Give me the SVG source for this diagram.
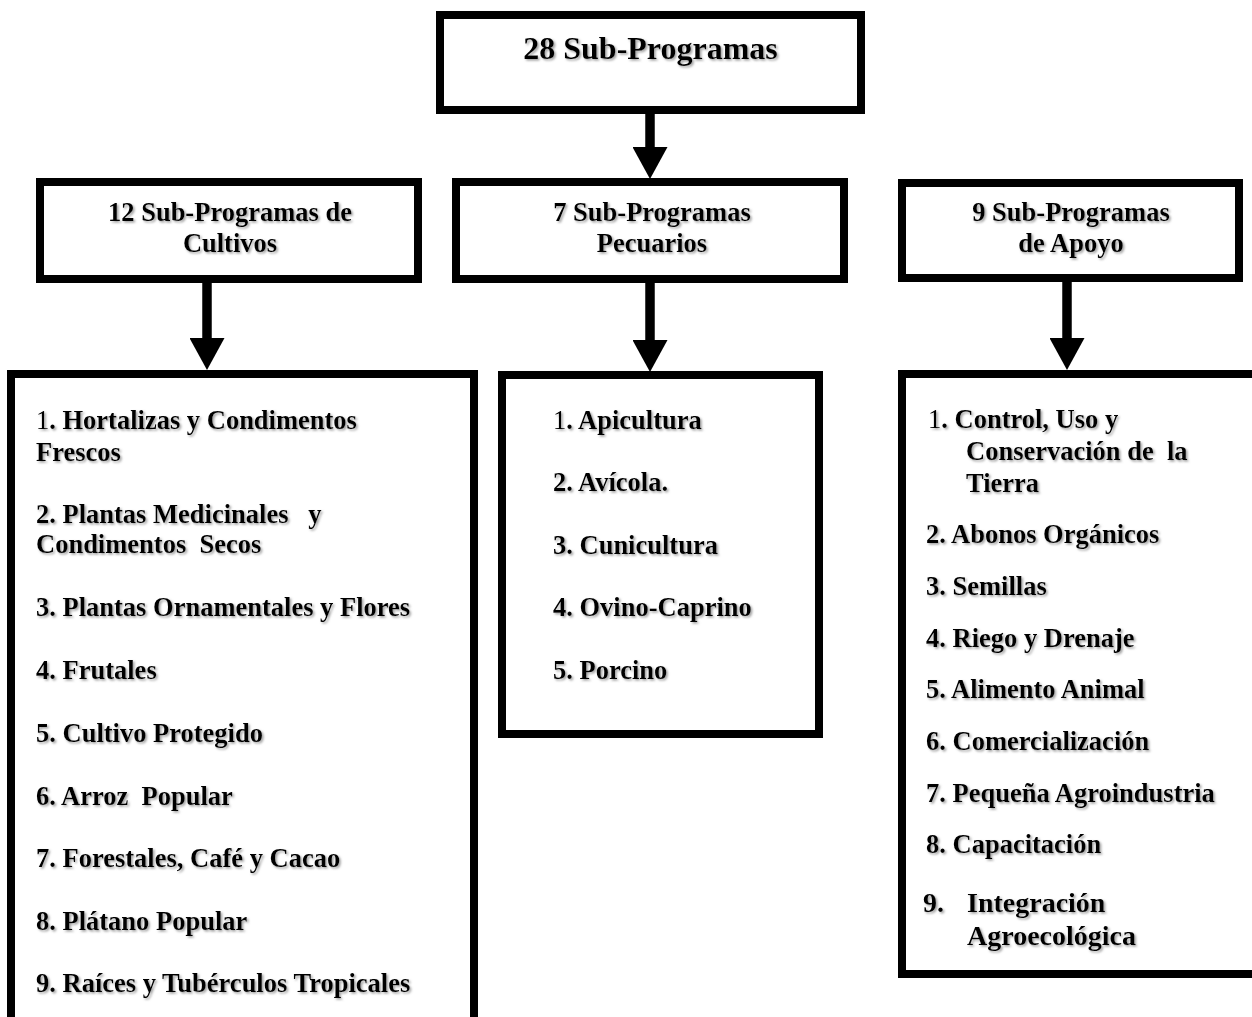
<svg xmlns="http://www.w3.org/2000/svg" width="1252" height="1017" viewBox="0 0 1252 1017">
<style>
  .box { fill: #fff; stroke: #000; stroke-width: 8; }
  .t { font-family: "Liberation Serif", "Times New Roman", serif; font-weight: bold; fill: #000; filter: url(#sh); }
  .hd { font-size: 26.5px; text-anchor: middle; }
  .title { font-size: 32px; text-anchor: middle; }
  .li { font-size: 26.5px; }
  .li text { white-space: pre; }
  .big { font-size: 28px; }
  .n { font-weight: normal; }
  .conn { stroke: #000; stroke-width: 9.5; fill: none; marker-end: url(#ah); }
</style>
<defs>
  <filter id="sh" x="-10%" y="-30%" width="120%" height="160%">
    <feDropShadow dx="1.6" dy="1.6" stdDeviation="0.9" flood-color="#808080" flood-opacity="0.75"/>
  </filter>
  <marker id="ah" markerUnits="userSpaceOnUse" viewBox="0 0 32 35" markerWidth="32" markerHeight="35" refX="0" refY="17.5" orient="auto">
    <path d="M0,0 L32,17.5 L0,35 Z" fill="#000"/>
  </marker>
</defs>
<rect width="1252" height="1017" fill="#fff"/>

<g id="connectors">
  <path class="conn" d="M650,114 L650,147"/>
  <path class="conn" d="M207,283 L207,338"/>
  <path class="conn" d="M650,281 L650,340"/>
  <path class="conn" d="M1067,282 L1067,338"/>
</g>

<g id="node-top">
  <rect class="box" x="440" y="15" width="421" height="95"/>
  <text class="t title" x="650.5" y="59">28 Sub-Programas</text>
</g>

<g id="node-cultivos">
  <rect class="box" x="40" y="182" width="378" height="97"/>
  <text class="t hd" x="230" y="221">12 Sub-Programas de</text>
  <text class="t hd" x="230" y="252">Cultivos</text>
</g>

<g id="node-pecuarios">
  <rect class="box" x="456" y="182" width="388" height="97"/>
  <text class="t hd" x="652" y="221">7 Sub-Programas</text>
  <text class="t hd" x="652" y="252">Pecuarios</text>
</g>

<g id="node-apoyo">
  <rect class="box" x="902" y="183" width="337" height="95"/>
  <text class="t hd" x="1071" y="221">9 Sub-Programas</text>
  <text class="t hd" x="1071" y="252">de Apoyo</text>
</g>

<g id="list-cultivos">
  <rect class="box" x="11" y="374" width="463" height="700"/>
  <g class="t li">
    <text x="36" y="429"><tspan class="n">1</tspan>. Hortalizas y Condimentos</text>
    <text x="36" y="461">Frescos</text>
    <text x="36" y="523">2. Plantas Medicinales   y</text>
    <text x="36" y="553">Condimentos  Secos</text>
    <text x="36" y="616">3. Plantas Ornamentales y Flores</text>
    <text x="36" y="679">4. Frutales</text>
    <text x="36" y="742">5. Cultivo Protegido</text>
    <text x="36" y="805">6. Arroz  Popular</text>
    <text x="36" y="867">7. Forestales, Café y Cacao</text>
    <text x="36" y="930">8. Plátano Popular</text>
    <text x="36" y="992">9. Raíces y Tubérculos Tropicales</text>
  </g>
</g>

<g id="list-pecuarios">
  <rect class="box" x="502" y="375" width="317" height="359"/>
  <g class="t li">
    <text x="553" y="429"><tspan class="n">1</tspan>. Apicultura</text>
    <text x="553" y="491">2. Avícola.</text>
    <text x="553" y="554">3. Cunicultura</text>
    <text x="553" y="616">4. Ovino-Caprino</text>
    <text x="553" y="679">5. Porcino</text>
  </g>
</g>

<g id="list-apoyo">
  <rect class="box" x="902" y="374" width="400" height="600"/>
  <g class="t li">
    <text x="928" y="428"><tspan class="n">1</tspan>. Control, Uso y</text>
    <text x="966" y="460">Conservación de  la</text>
    <text x="966" y="492">Tierra</text>
    <text x="926" y="543">2. Abonos Orgánicos</text>
    <text x="926" y="595">3. Semillas</text>
    <text x="926" y="647">4. Riego y Drenaje</text>
    <text x="926" y="698">5. Alimento Animal</text>
    <text x="926" y="750">6. Comercialización</text>
    <text x="926" y="802">7. Pequeña Agroindustria</text>
    <text x="926" y="853">8. Capacitación</text>
    <text class="big" x="923" y="912">9.<tspan x="967">Integración</tspan></text>
    <text class="big" x="967" y="945">Agroecológica</text>
  </g>
</g>
</svg>
